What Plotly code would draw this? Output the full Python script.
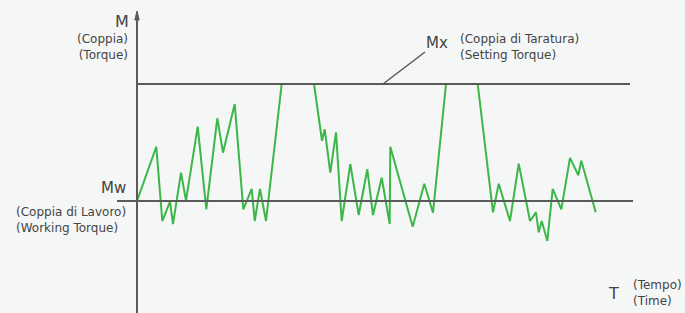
import plotly.graph_objects as go

# Reference torque levels
MW = 1.0   # working torque
MX = 2.0   # setting torque

# Torque trace (time, torque); None breaks where the trace is cut at Mx
time = [0, 19.3, 25.3, 33, 36, 44, 49, 60.7, 69.3, 80.3, 86, 97.7, 106.3, 114.7, 117.7, 123, 129, 144.7,
        None,
        177, 185, 187.7, 193.3, 199, 204.7, 213.3, 221.7, 230.3, 236, 244.7, 252.7, 253.3, 275.7, 287.3, 296, 309,
        None,
        340.7, 356, 361.7, 373, 381.7, 393, 399, 401.7, 404.7, 410.3, 415.7, 424.3, 433, 441.3, 444.3, 458.7]
torque = [1.0, 1.464, 0.829, 0.994, 0.803, 1.242, 1.003, 1.635, 0.929, 1.707, 1.413, 1.829, 0.929, 1.103, 0.829, 1.103, 0.829, 2.0,
          None,
          2.0, 1.515, 1.613, 1.242, 1.587, 0.829, 1.316, 0.880, 1.271, 0.880, 1.199, 0.803, 1.464, 0.780, 1.148, 0.900, 2.0,
          None,
          2.0, 0.903, 1.148, 0.829, 1.319, 0.829, 0.903, 0.732, 0.829, 0.658, 1.103, 0.929, 1.368, 1.220, 1.344, 0.903]

X_RANGE = [-137, 548]
Y_RANGE = [1 - 112 / 117, 1 + 201 / 117]

AX = "#5a5a5a"
TXT = "#444444"
FONT = "DejaVu Sans"

fig = go.Figure()
fig.add_trace(go.Scatter(x=time, y=torque, mode="lines",
                         line=dict(color="#3cb648", width=2),
                         connectgaps=False, hoverinfo="skip", showlegend=False))

shapes = [
    # Mx line
    dict(type="line", xref="x", yref="y", x0=0, x1=493, y0=MX, y1=MX, line=dict(color=AX, width=2)),
    # Mw line
    dict(type="line", xref="x", yref="y", x0=-20, x1=496, y0=MW, y1=MW, line=dict(color=AX, width=2)),
    # vertical torque axis
    dict(type="line", xref="x", yref="y", x0=0, x1=0, y0=Y_RANGE[0], y1=1 + 188 / 117, line=dict(color=AX, width=2)),
    # arrow head
    dict(type="path", xref="x", yref="y",
         path=f"M -2.2,{1 + 181 / 117} L 0,{1 + 190 / 117} L 2.2,{1 + 181 / 117} Z",
         fillcolor=AX, line=dict(color=AX, width=1)),
    # leader for Mx
    dict(type="line", xref="x", yref="y", x0=246, x1=288, y0=MX, y1=1 + 149 / 117, line=dict(color=AX, width=1.5)),
]

ann = [
    dict(x=-6, y=1 + 180 / 117, text="M", xanchor="right", font=dict(size=16)),
    dict(x=-7, y=1 + 154 / 117, text="(Coppia)<br>(Torque)", xanchor="right", align="right", font=dict(size=12)),
    dict(x=-9, y=1 + 13 / 117, text="Mw", xanchor="right", font=dict(size=15)),
    dict(x=-123, y=1 - 19 / 117, text="(Coppia di Lavoro)<br>(Working Torque)", xanchor="left", align="left", font=dict(size=12)),
    dict(x=287, y=1 + 158 / 117, text="Mx", xanchor="left", font=dict(size=15)),
    dict(x=321, y=1 + 154 / 117, text="(Coppia di Taratura)<br>(Setting Torque)", xanchor="left", align="left", font=dict(size=12)),
    dict(x=469, y=1 - 92 / 117, text="T", xanchor="left", font=dict(size=16)),
    dict(x=494, y=1 - 92 / 117, text="(Tempo)<br>(Time)", xanchor="left", align="left", font=dict(size=12)),
]
for a in ann:
    a.update(xref="x", yref="y", showarrow=False, yanchor="middle")
    a["font"].update(family=FONT, color=TXT)

fig.update_layout(
    width=685, height=313,
    margin=dict(l=0, r=0, t=0, b=0),
    paper_bgcolor="#f5f7f7", plot_bgcolor="#f5f7f7",
    xaxis=dict(range=X_RANGE, visible=False, fixedrange=True),
    yaxis=dict(range=Y_RANGE, visible=False, fixedrange=True),
    shapes=shapes, annotations=ann, showlegend=False,
)
fig.write_html("out.html", config={"displayModeBar": False},
               post_script="document.body.style.margin='0';document.body.style.overflow='hidden';document.body.style.background='#f5f7f7';")
